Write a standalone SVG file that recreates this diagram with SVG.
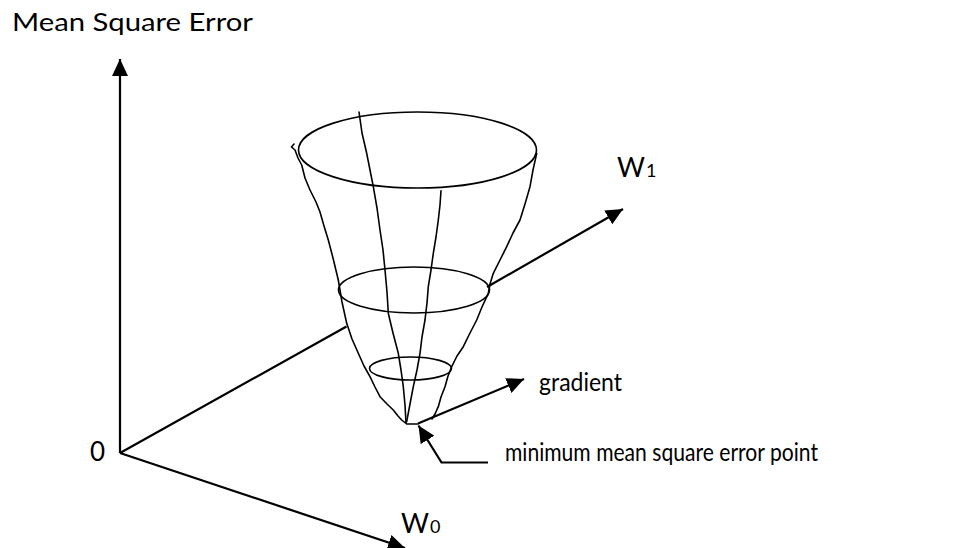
<svg xmlns="http://www.w3.org/2000/svg" width="958" height="548" viewBox="0 0 958 548">
<style>
.ax{stroke:#000;stroke-width:2.2;fill:none}
.cn{stroke:#000;stroke-width:1.6;fill:none;stroke-linejoin:round;stroke-linecap:round}
.t{font-family:Lato,"Open Sans","Liberation Sans",sans-serif;fill:#000}
</style>
<defs>
<marker id="ah" markerUnits="userSpaceOnUse" markerWidth="18" markerHeight="16" viewBox="0 0 18 16" refX="17" refY="8" orient="auto">
<path d="M0,0 L17,8 L0,16 Z" fill="#000"/>
</marker>
</defs>
<rect width="958" height="548" fill="#fff"/>
<g id="connectors">
<line class="ax" x1="120" y1="453" x2="120" y2="59" marker-end="url(#ah)"/>
<line class="ax" x1="120" y1="453" x2="405" y2="548" marker-end="url(#ah)"/>
<line class="ax" x1="120" y1="453" x2="346.5" y2="326.5"/>
<line class="ax" x1="487" y1="287" x2="623" y2="209" marker-end="url(#ah)"/>
<line class="ax" x1="418" y1="423.5" x2="524" y2="379" marker-end="url(#ah)"/>
<polyline class="ax" points="488,462.5 441.5,462.5 418.5,425.5" marker-end="url(#ah)"/>
</g>
<g id="surface">
<ellipse class="cn" cx="417.5" cy="150" rx="119" ry="38"/>
<ellipse class="cn" cx="414" cy="290" rx="75.5" ry="23"/>
<ellipse class="cn" cx="410.5" cy="368.5" rx="41" ry="11.5"/>
<path class="cn" d="M294,144 L291.5,147 L295,150 L298,158 L301.7,165 L305,178 L310,190 L316,202 L320,212 L324,226 L328.3,240 L333,258 L338.3,280 L342,302 L346.7,323.3 L352,339 L358.3,353.3 L364,366 L370,376.7 L375,387 L380,396.7 L387,404 L393.3,410 L398,416 L401.7,420 L406.7,424 L418,424"/>
<path class="cn" d="M536.7,153.3 L533,170 L530,186.7 L525,204 L520,220 L513,233 L506.7,246.7 L500,260 L493.3,273.3 L490,284 L488.3,293.3 L482,307 L476.7,320 L470,333 L463.3,346.7 L457,356 L451.7,366.7 L448,376 L445,386.7 L441,397 L438.3,406.7 L435,414 L432,419"/>
<path class="cn" d="M359,112 L362,133 L366.7,153.3 L370,170 L373.3,186.7 L377,208 L380,230 L383,250 L385,270 L387,292 L388.3,313.3 L393,333 L398.3,353.3 L401,370 L403.3,386.7 L405,405 L406,423"/>
<path class="cn" d="M441,190.7 L440,205 L438.3,220 L436,237 L433.3,253.3 L431,270 L428.3,286.7 L427,303 L425,320 L422,337 L420,353.3 L417,370 L413.3,386.7 L410,404 L406.7,421.7"/>
</g>
<g id="labels">
<text class="t" x="12" y="30.7" font-size="24.5" textLength="241" lengthAdjust="spacingAndGlyphs">Mean Square Error</text>
<text class="t" x="90" y="460.7" font-size="26">0</text>
<text class="t" x="617" y="176.7" font-size="27">W<tspan font-size="18" dx="1">1</tspan></text>
<text class="t" x="401" y="533.3" font-size="27">W<tspan font-size="18" dx="1">0</tspan></text>
<text class="t" x="539" y="391" font-size="25" textLength="83" lengthAdjust="spacingAndGlyphs">gradient</text>
<text class="t" x="505" y="461" font-size="25" textLength="313" lengthAdjust="spacingAndGlyphs">minimum mean square error point</text>
</g>
</svg>
